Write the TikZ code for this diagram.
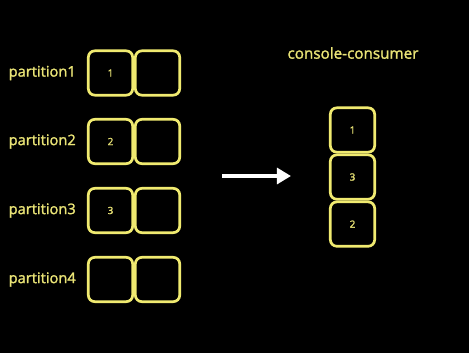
\documentclass[tikz,border=0pt]{standalone}
\usepackage{fontspec}
\setmainfont{Open Sans}
\newfontfamily\diagfont[FakeBold=1.6]{Open Sans}
\usetikzlibrary{positioning, arrows.meta}
\definecolor{BoxYellow}{RGB}{240,234,112}
\definecolor{TextYellow}{RGB}{234,228,118}
\tikzset{
  cell/.style={draw=BoxYellow, line width=2.3pt, rounded corners=5.5pt,
    minimum width=1.33cm, minimum height=1.33cm, inner sep=0pt,
    text=TextYellow, font=\diagfont\fontsize{8.5}{9}\selectfont},
  partlabel/.style={anchor=east, inner sep=0pt, text=TextYellow,
    font=\diagfont\fontsize{12.5}{14}\selectfont}
}

\begin{document}
\begin{tikzpicture}[x=0.03cm, y=-0.03cm]
  % background, 469 x 353 px
  \fill[black] (0,0) rectangle (469,353);
  \useasboundingbox (0,0) rectangle (469,353);

  % partitions: y, number, first entry
  \foreach \y/\n/\v in {73/1/1, 141.5/2/2, 210.5/3/3, 279.5/4/{}} {
    \node[cell] (p\n a) at (110.5,\y) {\v};
    \node[cell, right=0pt of p\n a] (p\n b) {};
    \node[partlabel] (lbl\n) at (76,\y) {partition\n};
  }

  % arrow
  \coordinate (arrstart) at (222,176);
  \coordinate (arrend) at (291,176);
  \draw[white, line width=3.4pt, -{Triangle[length=12pt, width=13.5pt]}] (arrstart) -- (arrend);

  % consumer side
  \node[text=TextYellow, font=\diagfont\fontsize{13}{15}\selectfont] (title) at (353,53) {console-consumer};
  \node[cell] (c1) at (352.5,130) {1};
  \node[cell, below=0pt of c1] (c2) {3};
  \node[cell, below=0pt of c2] (c3) {2};
\end{tikzpicture}
\end{document}
